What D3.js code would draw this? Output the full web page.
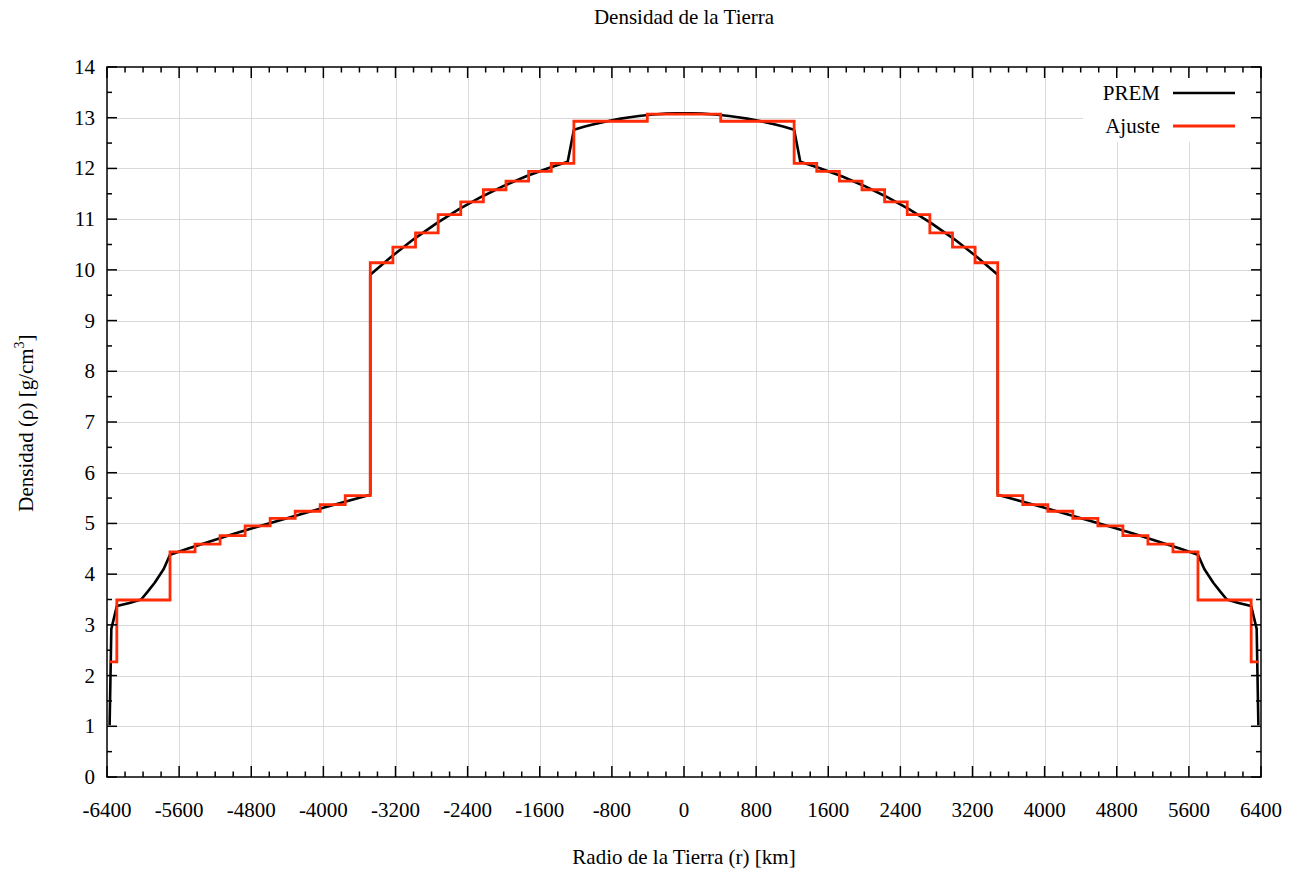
<!DOCTYPE html>
<html>
<head>
<meta charset="utf-8">
<script src="https://cdn.jsdelivr.net/npm/d3@7"></script>
<style>
  html, body { margin: 0; padding: 0; background: #fff; }
  svg text { font-family: "Liberation Serif", "DejaVu Serif", serif; fill: #000; }
</style>
</head>
<body>
<svg id="chart" width="1299" height="873"></svg>
<script>
// PREM density profile (g/cm^3) sampled along the radius (km), positive half
const premRadius = [0, 100, 200, 300, 400, 500, 600, 700, 800, 900, 1000, 1100, 1221.5,
  1290, 1500, 1750, 2000, 2250, 2500, 2750, 3000, 3250, 3480,
  3480, 3750, 4000, 4250, 4500, 4750, 5000, 5250, 5500, 5701,
  5771, 5871, 5951, 6021, 6151, 6291, 6352, 6371];
const premDensity = [13.0885, 13.0863, 13.0798, 13.0689, 13.0537, 13.0341, 13.0101, 12.9818, 12.9491, 12.9121, 12.8708, 12.8250, 12.7636,
  12.1304, 12.0099, 11.8450, 11.6548, 11.4374, 11.1907, 10.9128, 10.6016, 10.2551, 9.9034,
  5.5665, 5.4317, 5.3073, 5.1819, 5.0547, 4.9244, 4.7898, 4.6500, 4.5037, 4.3807,
  4.10, 3.83, 3.65, 3.50, 3.43, 3.37, 2.92, 1.02];

// Piecewise-constant fit: shell boundaries (km) and the density of each shell
const fitEdges = [0, 407, 1221.5, 1472.4, 1723.4, 1974.3, 2225.2, 2476.1, 2727, 2978, 3228.9, 3480,
  3757.6, 4035.3, 4312.9, 4590.5, 4868.1, 5145.8, 5423.4, 5701, 6291, 6371];
const fitValues = [13.07, 12.93, 12.10, 11.94, 11.75, 11.58, 11.34, 11.09, 10.73, 10.45, 10.14,
  5.55, 5.37, 5.24, 5.10, 4.95, 4.76, 4.59, 4.44, 3.49, 2.27];

const xTicks = d3.range(-6400, 6401, 800);
const xMinorTicks = d3.range(-6400, 6401, 200);
const yTicks = d3.range(0, 15, 1);
const yMinorTicks = d3.range(0, 14.01, 0.5);

const seriesNames = ["PREM", "Ajuste"];
const seriesColors = ["#000000", "#ff2a06"];

const FS = 21;
const svg = d3.select("#chart");
const L = 107, R = 1261, T = 67, B = 777;
const x = d3.scaleLinear().domain([-6400, 6400]).range([L, R]);
const y = d3.scaleLinear().domain([0, 14]).range([B, T]);

svg.append("rect").attr("width", 1299).attr("height", 873).attr("fill", "#fff");

// grid
const grid = svg.append("g").attr("stroke", "#d9d9d9").attr("stroke-width", 1);
grid.selectAll("line.gx").data(xTicks.slice(1, -1)).join("line")
  .attr("x1", d => Math.round(x(d)) + 0.5).attr("x2", d => Math.round(x(d)) + 0.5)
  .attr("y1", T).attr("y2", B);
grid.selectAll("line.gy").data(yTicks.slice(1, -1)).join("line")
  .attr("x1", L).attr("x2", R)
  .attr("y1", d => Math.round(y(d)) + 0.5).attr("y2", d => Math.round(y(d)) + 0.5);

// legend background
svg.append("rect").attr("x", 1083).attr("y", 72).attr("width", 176).attr("height", 70).attr("fill", "#fff");

// PREM curve, mirrored to negative radii
const premPts = [];
for (let i = premRadius.length - 1; i >= 1; i--) premPts.push([-premRadius[i], premDensity[i]]);
for (let i = 0; i < premRadius.length; i++) premPts.push([premRadius[i], premDensity[i]]);

const line = d3.line().x(d => x(d[0])).y(d => y(d[1]));
svg.append("path").datum(premPts)
  .attr("d", line).attr("fill", "none")
  .attr("stroke", seriesColors[0]).attr("stroke-width", 2.6).attr("stroke-linejoin", "round");

// stepped fit, mirrored
const fitPts = [];
for (let i = fitValues.length - 1; i >= 0; i--) fitPts.push([-fitEdges[i + 1], fitValues[i]]);
for (let i = 0; i < fitValues.length; i++) fitPts.push([fitEdges[i], fitValues[i]]);
fitPts.push([fitEdges[fitEdges.length - 1], fitValues[fitValues.length - 1]]);

const stepLine = d3.line().x(d => x(d[0])).y(d => y(d[1])).curve(d3.curveStepAfter);
svg.append("path").datum(fitPts)
  .attr("d", stepLine).attr("fill", "none")
  .attr("stroke", seriesColors[1]).attr("stroke-width", 2.8).attr("stroke-linejoin", "miter");

// frame and ticks
const ax = svg.append("g").attr("stroke", "#000").attr("stroke-width", 1.5);
ax.append("rect").attr("x", L).attr("y", T).attr("width", R - L).attr("height", B - T).attr("fill", "none");
const isMajorX = d => d % 800 === 0;
const isMajorY = d => Number.isInteger(d);
ax.selectAll("line.bx").data(xMinorTicks).join("line")
  .attr("x1", d => x(d)).attr("x2", d => x(d))
  .attr("y1", B).attr("y2", d => B - (isMajorX(d) ? 11 : 5.5));
ax.selectAll("line.tx").data(xMinorTicks).join("line")
  .attr("x1", d => x(d)).attr("x2", d => x(d))
  .attr("y1", T).attr("y2", d => T + (isMajorX(d) ? 11 : 5.5));
ax.selectAll("line.ly").data(yMinorTicks).join("line")
  .attr("y1", d => y(d)).attr("y2", d => y(d))
  .attr("x1", L).attr("x2", d => L + (isMajorY(d) ? 10 : 5));
ax.selectAll("line.ry").data(yMinorTicks).join("line")
  .attr("y1", d => y(d)).attr("y2", d => y(d))
  .attr("x1", R).attr("x2", d => R - (isMajorY(d) ? 10 : 5));

// tick labels
svg.append("g").selectAll("text").data(xTicks).join("text")
  .attr("x", d => x(d)).attr("y", B + 40)
  .attr("text-anchor", "middle").attr("font-size", FS)
  .text(d => d);
svg.append("g").selectAll("text").data(yTicks).join("text")
  .attr("x", L - 12).attr("y", d => y(d) + 7)
  .attr("text-anchor", "end").attr("font-size", FS)
  .text(d => d);

// titles
svg.append("text").attr("x", 684).attr("y", 24).attr("text-anchor", "middle")
  .attr("font-size", FS).text("Densidad de la Tierra");
svg.append("text").attr("x", 684).attr("y", 864).attr("text-anchor", "middle")
  .attr("font-size", FS).text("Radio de la Tierra (r) [km]");
const yl = svg.append("text").attr("text-anchor", "middle").attr("font-size", FS)
  .attr("transform", "translate(33,423) rotate(-90)");
yl.append("tspan").text("Densidad (ρ) [g/cm");
yl.append("tspan").attr("dy", -9).attr("font-size", 14).text("3");
yl.append("tspan").attr("dy", 9).text("]");

// legend
const leg = svg.append("g");
seriesNames.forEach((name, i) => {
  const ly = 93 + i * 33;
  leg.append("text").attr("x", 1160).attr("y", ly + 7).attr("text-anchor", "end")
    .attr("font-size", FS).text(name);
  leg.append("line").attr("x1", 1173).attr("x2", 1235).attr("y1", ly).attr("y2", ly)
    .attr("stroke", seriesColors[i]).attr("stroke-width", i === 0 ? 2.6 : 2.8);
});
</script>
</body>
</html>
